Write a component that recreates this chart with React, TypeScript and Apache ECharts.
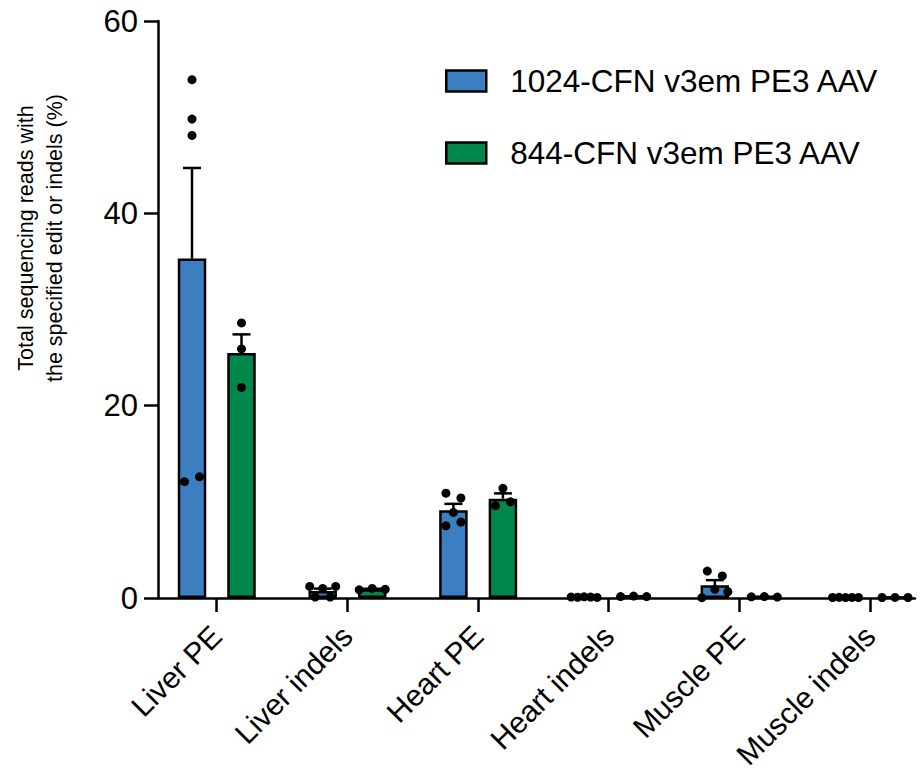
import React, { useEffect, useRef } from "react";
import * as echarts from "echarts";

// ---------- data ----------
const categories = ["Liver PE", "Liver indels", "Heart PE", "Heart indels", "Muscle PE", "Muscle indels"];
const seriesNames = ["1024-CFN v3em PE3 AAV", "844-CFN v3em PE3 AAV"];
const yTicks = [0, 20, 40, 60];
const yTitle = "Total sequencing reads with\nthe specified edit or indels (%)";

// individual replicate values per category
const pts1024 = [
  [53.9, 49.8, 48.1, 12.1, 12.6],
  [1.2, 1.0, 1.2, 0.1, 0.1],
  [10.9, 10.4, 8.9, 7.5, 7.9],
  [0.1, 0.08, 0.12, 0.1, 0.06],
  [0.03, 0.9, 0.65, 2.8, 2.3],
  [0.05, 0.07, 0.04, 0.06, 0.05],
];
const pts844 = [
  [28.6, 25.9, 21.9],
  [0.85, 1.0, 0.9],
  [11.4, 9.6, 10.0],
  [0.15, 0.2, 0.15],
  [0.12, 0.15, 0.1],
  [0.05, 0.06, 0.05],
];

// ---------- styling / geometry ----------
const FONT = "'Liberation Sans', Arial, Helvetica, sans-serif";
const BLUE = "#3b7fc2";
const GREEN = "#00874a";
const GRID_LEFT = 158;
const GRID_RIGHT_X = 915;
const GRID_TOP = 21;
const GRID_BOTTOM_Y = 598;
const X_MIN = -0.4476;
const X_MAX = 5.344;
const PX_PER_CAT = (GRID_RIGHT_X - GRID_LEFT) / (X_MAX - X_MIN);
const PX_PER_Y = (GRID_BOTTOM_Y - GRID_TOP) / 60;
const OFF_1 = -24.5 / PX_PER_CAT;
const OFF_2 = 25 / PX_PER_CAT;
const DOT = 7.5;

const mean = (a: number[]) => a.reduce((s, v) => s + v, 0) / a.length;
const sem = (a: number[]) => {
  const m = mean(a);
  const sd = Math.sqrt(a.reduce((s, v) => s + (v - m) * (v - m), 0) / (a.length - 1));
  return sd / Math.sqrt(a.length);
};

// simple column-scatter layout: points overlapping vertically get spread sideways
function swarmOffsets(vals: number[]): number[] {
  const order = vals.map((_, i) => i).sort((a, b) => vals[a] - vals[b]);
  const clusters: number[][] = [];
  let cur = [order[0]];
  for (let k = 1; k < order.length; k++) {
    if ((vals[order[k]] - vals[order[k - 1]]) * PX_PER_Y < DOT) cur.push(order[k]);
    else {
      clusters.push(cur);
      cur = [order[k]];
    }
  }
  clusters.push(cur);
  const off = new Array(vals.length).fill(0);
  clusters.forEach((c) => {
    const members = [...c].sort((a, b) => a - b);
    const n = members.length;
    const sp = n > 1 ? Math.min(15, 26 / (n - 1)) : 0;
    members.forEach((idx, j) => {
      off[idx] = (j - (n - 1) / 2) * sp;
    });
  });
  return off;
}

function buildScatter(points: number[][], barOff: number) {
  const out: number[][] = [];
  points.forEach((vals, i) => {
    const offs = swarmOffsets(vals);
    vals.forEach((v, j) => out.push([i + barOff + offs[j] / PX_PER_CAT, v]));
  });
  return out;
}

export default function App() {
  const ref = useRef<HTMLDivElement>(null);
  useEffect(() => {
    if (!ref.current) return;
    const chart = echarts.init(ref.current, null, { renderer: "svg" });

    const groups = [
      { name: seriesNames[0], pts: pts1024, off: OFF_1, color: BLUE },
      { name: seriesNames[1], pts: pts844, off: OFF_2, color: GREEN },
    ];

    const series: any[] = [];
    groups.forEach((g) => {
      series.push({
        type: "bar",
        name: g.name,
        data: g.pts.map((p, i) => [i + g.off, mean(p)]),
        barWidth: 28.5,
        barGap: "-100%",
        itemStyle: { color: g.color, borderColor: "#000", borderWidth: 2.5 },
        z: 2,
      });
    });
    groups.forEach((g) => {
      series.push({
        type: "custom",
        name: g.name + " SEM",
        data: g.pts.map((p, i) => [i + g.off, mean(p), mean(p) + sem(p)]),
        encode: { x: 0, y: [1, 2] },
        z: 3,
        renderItem: (params: any, api: any) => {
          const p0 = api.coord([api.value(0), api.value(1)]);
          const p1 = api.coord([api.value(0), api.value(2)]);
          const st = { stroke: "#000", lineWidth: 2.5 };
          return {
            type: "group",
            children: [
              { type: "line", shape: { x1: p0[0], y1: p0[1], x2: p1[0], y2: p1[1] }, style: st },
              { type: "line", shape: { x1: p1[0] - 9, y1: p1[1], x2: p1[0] + 9, y2: p1[1] }, style: st },
            ],
          };
        },
      });
    });
    groups.forEach((g) => {
      series.push({
        type: "scatter",
        name: g.name + " points",
        data: buildScatter(g.pts, g.off),
        symbol: "circle",
        symbolSize: 9,
        itemStyle: { color: "#000", opacity: 1 },
        z: 4,
      });
    });

    chart.setOption({
      animation: false,
      textStyle: { fontFamily: FONT, color: "#000" },
      grid: {
        left: GRID_LEFT,
        top: GRID_TOP,
        width: GRID_RIGHT_X - GRID_LEFT,
        height: GRID_BOTTOM_Y - GRID_TOP,
        containLabel: false,
        outerBoundsMode: "none",
      },
      legend: {
        data: seriesNames,
        orient: "vertical",
        left: 445,
        top: 65,
        padding: 0,
        icon: "rect",
        itemWidth: 40,
        itemHeight: 21,
        itemGap: 40,
        itemStyle: { borderColor: "#000", borderWidth: 2.5 },
        textStyle: { fontSize: 31.5, fontFamily: FONT, color: "#000", padding: [0, 0, 0, 19], lineHeight: 30 },
      },
      xAxis: {
        type: "value",
        min: X_MIN,
        max: X_MAX,
        splitLine: { show: false },
        axisLine: { show: true, onZero: false, lineStyle: { color: "#000", width: 2.5 } },
        axisTick: {
          show: true,
          customValues: categories.map((_, i) => i),
          length: 14,
          lineStyle: { color: "#000", width: 2.5 },
        },
        axisLabel: {
          customValues: categories.map((_, i) => i),
          formatter: (v: number) => categories[Math.round(v)] ?? "",
          rotate: 45,
          fontSize: 30,
          fontFamily: FONT,
          color: "#000",
          margin: 33,
        },
      },
      yAxis: {
        type: "value",
        min: yTicks[0],
        max: yTicks[yTicks.length - 1],
        interval: 20,
        splitLine: { show: false },
        axisLine: { show: true, onZero: false, lineStyle: { color: "#000", width: 2.5 } },
        axisTick: { show: true, length: 14, lineStyle: { color: "#000", width: 2.5 } },
        axisLabel: { fontSize: 31, fontFamily: FONT, color: "#000", margin: 20 },
      },
      graphic: [
        {
          type: "text",
          x: 40,
          y: 238,
          rotation: Math.PI / 2,
          style: {
            text: yTitle,
            fontSize: 21.5,
            fontFamily: FONT,
            fill: "#000",
            align: "center",
            verticalAlign: "middle",
            lineHeight: 29,
          },
        },
      ],
      series,
    });
    return () => chart.dispose();
  }, []);
  return (
    <div
      ref={ref}
      style={{ position: "fixed", left: 0, top: 0, width: 923, height: 777, background: "#fff" }}
    />
  );
}
